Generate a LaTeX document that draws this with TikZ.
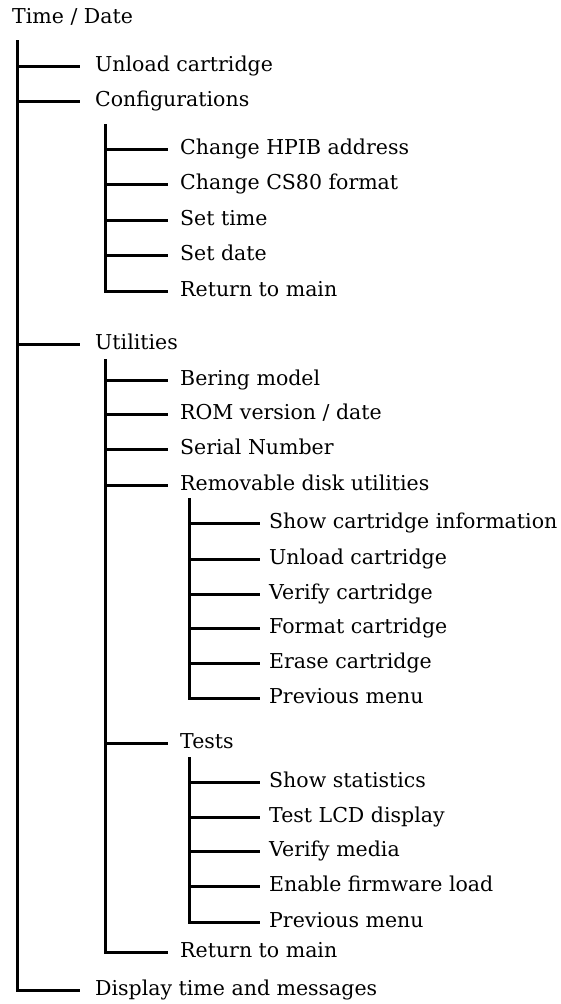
\documentclass[tikz,border=0pt]{standalone}
\usepackage{fontspec}
\setmainfont{DejaVu Serif}
\begin{document}
\begin{tikzpicture}[x=1pt,y=-1pt,
    every node/.style={font=\fontsize{20.5}{24}\selectfont,text height=10pt,text depth=0pt},
    itemA/.style={anchor=west,inner xsep=15pt},
    itemB/.style={anchor=west,inner xsep=12pt},
    itemC/.style={anchor=west,inner xsep=9pt},
    branch/.style={line width=3pt}]
    \useasboundingbox (0,0) rectangle (561,1004);

    \node[anchor=west,inner xsep=0pt] (title) at (12,18) {Time / Date};

    \coordinate (trunk) at (17,40);
    \node[itemA] (unload) at (80,66) {Unload cartridge};
    \node[itemA] (config) at (80,101) {Configurations};
    \node[itemA] (util) at (80,344) {Utilities};
    \node[itemA] (disp) at (80,990) {Display time and messages};

    \coordinate (cfg) at (105,124);
    \node[itemB] (hpib) at (168,149) {Change HPIB address};
    \node[itemB] (cs80) at (168,184) {Change CS80 format};
    \node[itemB] (settime) at (168,220) {Set time};
    \node[itemB] (setdate) at (168,255) {Set date};
    \node[itemB] (cfgret) at (168,291) {Return to main};

    \coordinate (utl) at (105,359);
    \node[itemB] (model) at (168,380) {Bering model};
    \node[itemB] (rom) at (168,414) {ROM version / date};
    \node[itemB] (serial) at (168,449) {Serial Number};
    \node[itemB] (remov) at (168,485) {Removable disk utilities};
    \node[itemB] (tests) at (168,743) {Tests};
    \node[itemB] (utlret) at (168,952) {Return to main};

    \coordinate (rmv) at (189,498);
    \node[itemC] (showcart) at (260,523) {Show cartridge information};
    \node[itemC] (unloadcart) at (260,559) {Unload cartridge};
    \node[itemC] (verifycart) at (260,594) {Verify cartridge};
    \node[itemC] (formatcart) at (260,628) {Format cartridge};
    \node[itemC] (erasecart) at (260,663) {Erase cartridge};
    \node[itemC] (rmvprev) at (260,698) {Previous menu};

    \coordinate (tst) at (189,757);
    \node[itemC] (stats) at (260,782) {Show statistics};
    \node[itemC] (lcd) at (260,817) {Test LCD display};
    \node[itemC] (media) at (260,851) {Verify media};
    \node[itemC] (firmware) at (260,886) {Enable firmware load};
    \node[itemC] (tstprev) at (260,922) {Previous menu};

    \foreach \n in {unload,config,util,disp}
        \draw[branch] (trunk) |- (\n.west);
    \foreach \n in {hpib,cs80,settime,setdate,cfgret}
        \draw[branch] (cfg) |- (\n.west);
    \foreach \n in {model,rom,serial,remov,tests,utlret}
        \draw[branch] (utl) |- (\n.west);
    \foreach \n in {showcart,unloadcart,verifycart,formatcart,erasecart,rmvprev}
        \draw[branch] (rmv) |- (\n.west);
    \foreach \n in {stats,lcd,media,firmware,tstprev}
        \draw[branch] (tst) |- (\n.west);
\end{tikzpicture}
\end{document}
